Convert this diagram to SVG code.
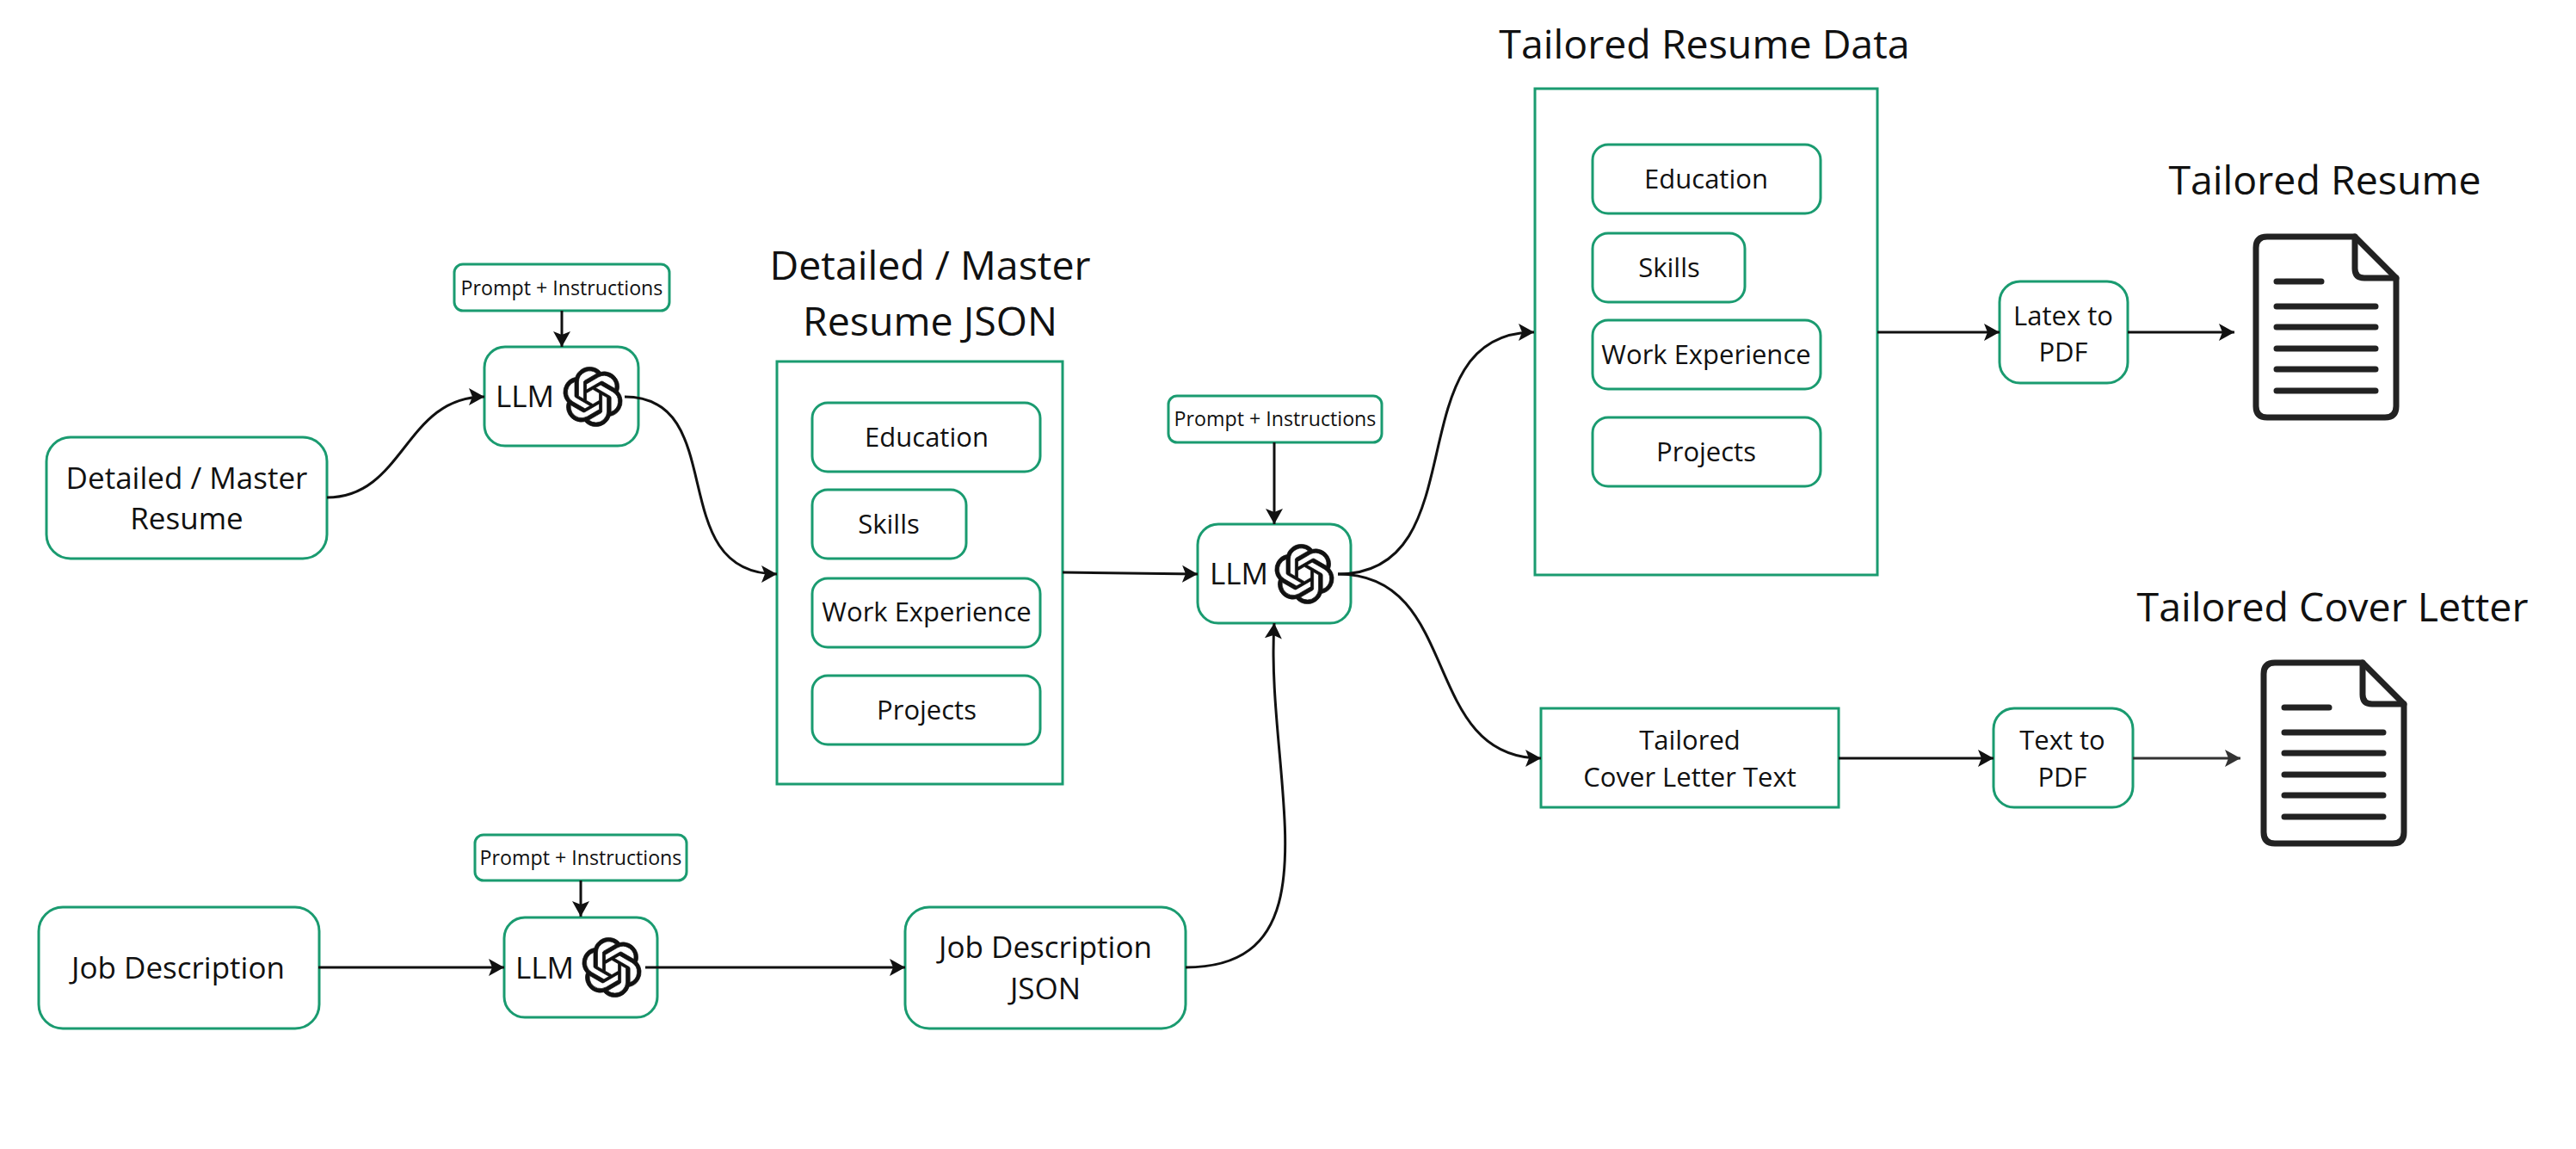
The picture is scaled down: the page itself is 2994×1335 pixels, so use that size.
<svg xmlns="http://www.w3.org/2000/svg" xmlns:xlink="http://www.w3.org/1999/xlink" width="2994" height="1335" viewBox="0 0 2994 1335">
<style>
.b{fill:#fff;stroke:#1a9b70;stroke-width:3}
.t{font-family:"Open Sans","Noto Sans",sans-serif;fill:#111;text-anchor:middle;font-size:35px}
.m{font-size:31px}
.s{font-size:23.2px}
.h{font-size:46.5px}
.c{fill:none;stroke:#111;stroke-width:3;marker-end:url(#a)}
.g{stroke:#333;marker-end:url(#g)}
.d{fill:none;stroke:#222;stroke-width:7;stroke-linecap:round;stroke-linejoin:round}
.l{fill:#111;stroke:#111;stroke-width:.25}
</style>
<defs>
<marker id="a" markerUnits="userSpaceOnUse" markerWidth="20" markerHeight="22" refX="18" refY="10" orient="auto" viewBox="0 0 20 20"><path d="M0 0L18 10L0 20L4 10Z" fill="#111"/></marker>
<marker id="g" markerUnits="userSpaceOnUse" markerWidth="20" markerHeight="22" refX="18" refY="10" orient="auto" viewBox="0 0 20 20"><path d="M0 0L18 10L0 20L4 10Z" fill="#333"/></marker>
<symbol id="logo" viewBox="-0.5 -0.5 25 25"><path class="l" d="M22.2819 9.8211a5.9847 5.9847 0 0 0-.5157-4.9108 6.0462 6.0462 0 0 0-6.5098-2.9A6.0651 6.0651 0 0 0 4.9807 4.1818a5.9847 5.9847 0 0 0-3.9977 2.9 6.0462 6.0462 0 0 0 .7427 7.0966 5.98 5.98 0 0 0 .511 4.9107 6.051 6.051 0 0 0 6.5146 2.9001A5.9847 5.9847 0 0 0 13.2599 24a6.0557 6.0557 0 0 0 5.7718-4.2058 5.9894 5.9894 0 0 0 3.9977-2.9001 6.0557 6.0557 0 0 0-.7475-7.0729zm-9.022 12.6081a4.4755 4.4755 0 0 1-2.8764-1.0408l.1419-.0804 4.7783-2.7582a.7948.7948 0 0 0 .3927-.6813v-6.7369l2.02 1.1686a.071.071 0 0 1 .038.052v5.5826a4.504 4.504 0 0 1-4.4945 4.4944zm-9.6607-4.1254a4.4708 4.4708 0 0 1-.5346-3.0137l.142.0852 4.783 2.7582a.7712.7712 0 0 0 .7806 0l5.8428-3.3685v2.3324a.0804.0804 0 0 1-.0332.0615L9.74 19.9502a4.4992 4.4992 0 0 1-6.1408-1.6464zM2.3408 7.8956a4.485 4.485 0 0 1 2.3655-1.9728V11.6a.7664.7664 0 0 0 .3879.6765l5.8144 3.3543-2.0201 1.1685a.0757.0757 0 0 1-.071 0l-4.8303-2.7865A4.504 4.504 0 0 1 2.3408 7.872zm16.5963 3.8558L13.1038 8.364 15.1192 7.2a.0757.0757 0 0 1 .071 0l4.8303 2.7913a4.4944 4.4944 0 0 1-.6765 8.1042v-5.6772a.79.79 0 0 0-.407-.667zm2.0107-3.0231l-.142-.0852-4.7735-2.7818a.7759.7759 0 0 0-.7854 0L9.409 9.2297V6.8974a.0662.0662 0 0 1 .0284-.0615l4.8303-2.7866a4.4992 4.4992 0 0 1 6.6802 4.66zM8.3065 12.863l-2.02-1.1638a.0804.0804 0 0 1-.038-.0567V6.0742a4.4992 4.4992 0 0 1 7.3757-3.4537l-.142.0805L8.704 5.459a.7948.7948 0 0 0-.3927.6813zm1.0976-2.3654l2.602-1.4998 2.6069 1.4998v2.9994l-2.5974 1.4997-2.6067-1.4997Z"/></symbol>
<g id="doc"><path class="d" d="M2635 275H2737L2785 323V472Q2785 485 2772 485H2635Q2622 485 2622 472V288Q2622 275 2635 275Z"/><path class="d" d="M2737 275V312Q2737 323 2748 323H2785"/><path class="d" d="M2646 327H2698M2646 356H2761M2646 380H2761M2646 405H2761M2646 429H2761M2646 454H2761"/></g>
</defs>
<rect width="2994" height="1335" fill="#fff"/>
<g id="title-master"><text class="t h" x="1081" y="325">Detailed / Master</text><text class="t h" x="1081" y="390">Resume JSON</text></g>
<g id="title-data"><text class="t h" x="1981" y="68">Tailored Resume Data</text></g>
<g id="title-resume"><text class="t h" x="2702" y="226">Tailored Resume</text></g>
<g id="title-cover"><text class="t h" x="2711" y="722">Tailored Cover Letter</text></g>
<g id="detailed"><rect class="b" x="54" y="508" width="326" height="141" rx="28"/><text class="t" x="217" y="568">Detailed / Master</text><text class="t" x="217" y="615">Resume</text></g>
<g id="job"><rect class="b" x="45" y="1054" width="326" height="141" rx="28"/><text class="t" x="207" y="1137">Job Description</text></g>
<g id="prompt1"><rect class="b" x="528" y="307" width="250" height="54" rx="10"/><text class="t s" x="653" y="343">Prompt + Instructions</text></g>
<g id="llm1"><rect class="b" x="563" y="403" width="179" height="115" rx="24"/><text class="t" x="610" y="473">LLM</text><use xlink:href="#logo" href="#logo" x="653" y="425" width="72" height="72"/></g>
<g id="master-frame"><rect class="b" x="903" y="420" width="332" height="491"/></g>
<g id="m-edu"><rect class="b" x="944" y="468" width="265" height="80" rx="18"/><text class="t m" x="1077" y="519">Education</text></g>
<g id="m-skills"><rect class="b" x="944" y="569" width="179" height="80" rx="18"/><text class="t m" x="1033" y="620">Skills</text></g>
<g id="m-work"><rect class="b" x="944" y="672" width="265" height="80" rx="18"/><text class="t m" x="1077" y="722">Work Experience</text></g>
<g id="m-proj"><rect class="b" x="944" y="785" width="265" height="80" rx="18"/><text class="t m" x="1077" y="836">Projects</text></g>
<g id="prompt2"><rect class="b" x="1358" y="460" width="248" height="54" rx="10"/><text class="t s" x="1482" y="495">Prompt + Instructions</text></g>
<g id="llm2"><rect class="b" x="1392" y="609" width="178" height="115" rx="24"/><text class="t" x="1440" y="679">LLM</text><use xlink:href="#logo" href="#logo" x="1480" y="631" width="72" height="72"/></g>
<g id="data-frame"><rect class="b" x="1784" y="103" width="398" height="565"/></g>
<g id="d-edu"><rect class="b" x="1851" y="168" width="265" height="80" rx="18"/><text class="t m" x="1983" y="219">Education</text></g>
<g id="d-skills"><rect class="b" x="1851" y="271" width="177" height="80" rx="18"/><text class="t m" x="1940" y="322">Skills</text></g>
<g id="d-work"><rect class="b" x="1851" y="372" width="265" height="80" rx="18"/><text class="t m" x="1983" y="423">Work Experience</text></g>
<g id="d-proj"><rect class="b" x="1851" y="485" width="265" height="80" rx="18"/><text class="t m" x="1983" y="536">Projects</text></g>
<g id="latex"><rect class="b" x="2324" y="327" width="149" height="118" rx="24"/><text class="t m" x="2398" y="378">Latex to</text><text class="t m" x="2398" y="420">PDF</text></g>
<g id="cover"><rect class="b" x="1791" y="823" width="346" height="115"/><text class="t m" x="1964" y="871">Tailored</text><text class="t m" x="1964" y="914">Cover Letter Text</text></g>
<g id="text-pdf"><rect class="b" x="2317" y="823" width="162" height="115" rx="24"/><text class="t m" x="2397" y="871">Text to</text><text class="t m" x="2397" y="914">PDF</text></g>
<g id="prompt3"><rect class="b" x="552" y="970" width="246" height="53" rx="10"/><text class="t s" x="675" y="1005">Prompt + Instructions</text></g>
<g id="llm3"><rect class="b" x="586" y="1066" width="178" height="116" rx="24"/><text class="t" x="633" y="1137">LLM</text><use xlink:href="#logo" href="#logo" x="675" y="1088" width="72" height="72"/></g>
<g id="jd-json"><rect class="b" x="1052" y="1054" width="326" height="141" rx="28"/><text class="t" x="1215" y="1113">Job Description</text><text class="t" x="1215" y="1161">JSON</text></g>
<g id="doc1"><use xlink:href="#doc" href="#doc"/></g>
<g id="doc2"><use xlink:href="#doc" href="#doc" x="9" y="495"/></g>
<g id="connectors">
<path class="c" d="M380 578C470 578 470 461 563 461"/>
<path class="c" d="M726 461C850 461 770 667 903 667"/>
<path class="c" d="M1235 665L1392 667"/>
<path class="c" d="M1555 667C1720 667 1620 386 1783 386"/>
<path class="c" d="M1555 667C1700 667 1650 881 1791 881"/>
<path class="c" d="M2182 386H2324"/>
<path class="c" d="M2473 386H2597"/>
<path class="c" d="M2137 881H2317"/>
<path class="c g" d="M2479 881H2604"/>
<path class="c" d="M370 1124H586"/>
<path class="c" d="M750 1124H1052"/>
<path class="c" d="M1378 1124C1560 1124 1470 900 1481 724"/>
<path class="c" d="M653 361V403"/>
<path class="c" d="M1481 514V609"/>
<path class="c" d="M675 1023V1065"/>
</g>
</svg>
